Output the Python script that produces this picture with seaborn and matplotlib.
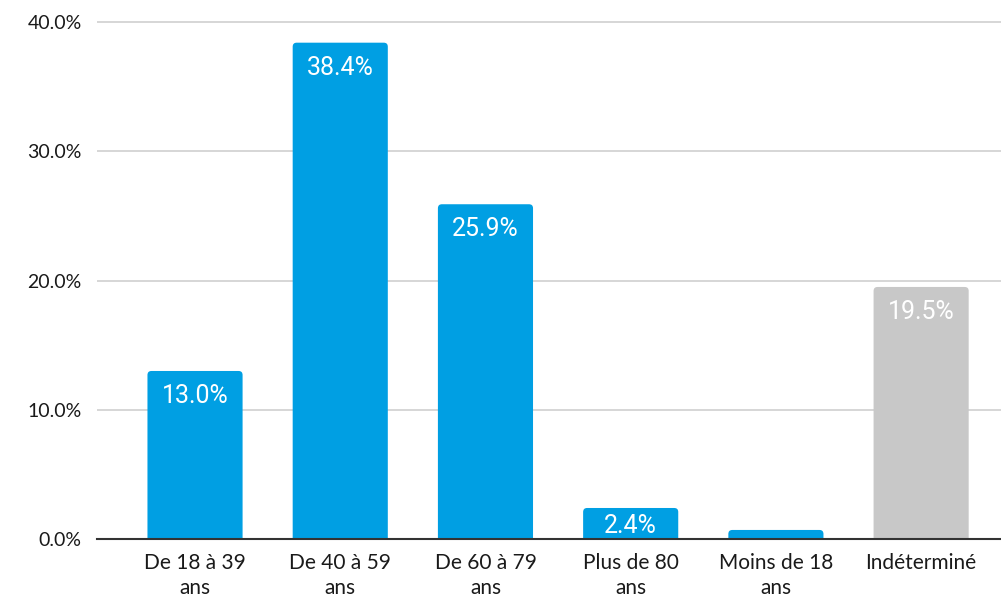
import matplotlib
matplotlib.use("Agg")
import matplotlib.pyplot as plt
from matplotlib.patches import FancyBboxPatch
from matplotlib.ticker import FuncFormatter
import seaborn as sns
import pandas as pd

# Age groups and their share (%)
categories = ["De 18 à 39\nans", "De 40 à 59\nans", "De 60 à 79\nans",
              "Plus de 80\nans", "Moins de 18\nans", "Indéterminé"]
values = [13.0, 38.4, 25.9, 2.4, 0.7, 19.5]
value_labels = ["13.0%", "38.4%", "25.9%", "2.4%", "", "19.5%"]
bar_colors = ["#009FE3", "#009FE3", "#009FE3", "#009FE3", "#009FE3", "#C8C8C8"]
y_ticks = [0, 10, 20, 30, 40]

sns.set_style("white")
plt.rcParams["font.family"] = ["Lato", "DejaVu Sans"]

df = pd.DataFrame({"cat": categories, "val": values})

W, H = 1001, 598
fig = plt.figure(figsize=(W / 100, H / 100), dpi=100)
y_top = 40.3
px_per_unit_y = (539 - 22) / 40.0
top_px = 539 - y_top * px_per_unit_y
ax = fig.add_axes([97 / W, (H - 539) / H, (W - 97) / W, (539 - top_px) / H])

sns.barplot(data=df, x="cat", y="val", hue="cat", palette=bar_colors,
            legend=False, width=0.655, ax=ax, saturation=1)

ax.set_xlim(-0.675, 5.55)
ax.set_ylim(0, y_top)

# Rounded-top bars built from the seaborn bar geometry
px_per_unit_x = (W - 97) / (5.55 + 0.675)
r_px = 4.0
rx = r_px / px_per_unit_x
ry = r_px / px_per_unit_y
for patch, color, label in zip(ax.patches, bar_colors, value_labels):
    x0 = patch.get_x()
    w = patch.get_width()
    h = patch.get_height()
    patch.set_visible(False)
    fb = FancyBboxPatch((x0, -ry), w, h + ry,
                        boxstyle=f"round,pad=0,rounding_size={rx}",
                        mutation_aspect=ry / rx,
                        facecolor=color, edgecolor="none", zorder=3)
    ax.add_patch(fb)
    if label:
        # keep the label inside short bars
        bar_px = h * px_per_unit_y
        offset = min(9.5, max(2.0, (bar_px - 25) * 0.72))
        ax.annotate(label, (x0 + w / 2, h), xytext=(0, -offset),
                    textcoords="offset points", ha="center", va="top",
                    color="white", fontsize=18, family="Roboto", zorder=6)

ax.set_yticks(y_ticks)
ax.yaxis.set_major_formatter(FuncFormatter(lambda v, _: f"{v:.1f}%"))
ax.grid(axis="y", color="#D0D0D0", linewidth=1.2, zorder=0)
ax.set_axisbelow(True)
for s in ["left", "right", "top"]:
    ax.spines[s].set_visible(False)
ax.spines["bottom"].set_color("#333333")
ax.spines["bottom"].set_linewidth(1.5)
ax.spines["bottom"].set_zorder(5)

ax.tick_params(axis="y", length=0, pad=11, labelsize=14, labelcolor="#1a1a1a")
ax.tick_params(axis="x", length=0, pad=10, labelsize=15, labelcolor="#1a1a1a")
for t in ax.get_xticklabels():
    t.set_linespacing(1.3)
ax.set_xlabel("")
ax.set_ylabel("")

fig.savefig("out.png", dpi=100)
